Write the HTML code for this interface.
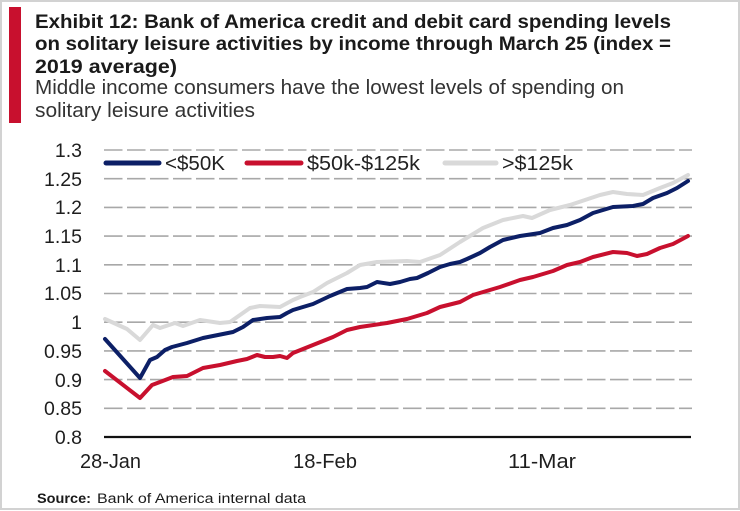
<!DOCTYPE html>
<html><head><meta charset="utf-8"><style>
html,body{margin:0;padding:0;background:#fff;}
svg{display:block;}
text{font-family:"Liberation Sans",sans-serif;}
</style></head><body>
<svg width="740" height="511" viewBox="0 0 740 511" xmlns="http://www.w3.org/2000/svg">
<rect x="0" y="0" width="740" height="511" fill="#fff"/>
<rect x="1" y="1" width="738" height="508" fill="none" stroke="#d2d2d2" stroke-width="2"/>
<rect x="9" y="7" width="12" height="116" fill="#c8102e"/>
<g fill="#1a1a1a" font-weight="bold" font-size="19">
<text x="35" y="28" textLength="636" lengthAdjust="spacingAndGlyphs">Exhibit 12: Bank of America credit and debit card spending levels</text>
<text x="35" y="50" textLength="636" lengthAdjust="spacingAndGlyphs">on solitary leisure activities by income through March 25 (index =</text>
<text x="35" y="73" textLength="142" lengthAdjust="spacingAndGlyphs">2019 average)</text>
</g>
<g fill="#333" font-size="20">
<text x="35" y="94" textLength="589" lengthAdjust="spacingAndGlyphs">Middle income consumers have the lowest levels of spending on</text>
<text x="35" y="117" textLength="220" lengthAdjust="spacingAndGlyphs">solitary leisure activities</text>
</g>
<!-- grid -->
<g stroke="#a8a8a8" stroke-width="1.6" stroke-dasharray="18.5 4.5">
<line x1="104" y1="150" x2="692" y2="150"/>
<line x1="104" y1="178.7" x2="692" y2="178.7"/>
<line x1="104" y1="207.4" x2="692" y2="207.4"/>
<line x1="104" y1="236.1" x2="692" y2="236.1"/>
<line x1="104" y1="264.8" x2="692" y2="264.8"/>
<line x1="104" y1="293.5" x2="692" y2="293.5"/>
<line x1="104" y1="322.2" x2="692" y2="322.2"/>
<line x1="104" y1="350.9" x2="692" y2="350.9"/>
<line x1="104" y1="379.6" x2="692" y2="379.6"/>
<line x1="104" y1="408.3" x2="692" y2="408.3"/>
</g>
<line x1="104" y1="437" x2="691" y2="437" stroke="#111" stroke-width="2.2"/>
<g fill="#1e1e1e" font-size="19.5" text-anchor="end">
<text x="82" y="157">1.3</text>
<text x="82" y="186">1.25</text>
<text x="82" y="214">1.2</text>
<text x="82" y="243">1.15</text>
<text x="82" y="272">1.1</text>
<text x="82" y="300">1.05</text>
<text x="82" y="329">1</text>
<text x="82" y="358">0.95</text>
<text x="82" y="387">0.9</text>
<text x="82" y="415">0.85</text>
<text x="82" y="444">0.8</text>
</g>
<g fill="#1e1e1e" font-size="20">
<text x="80" y="468" textLength="61" lengthAdjust="spacingAndGlyphs">28-Jan</text>
<text x="293" y="468" textLength="64" lengthAdjust="spacingAndGlyphs">18-Feb</text>
<text x="508" y="468" textLength="68" lengthAdjust="spacingAndGlyphs">11-Mar</text>
</g>
<!-- series -->
<g fill="none" stroke-width="4" stroke-linejoin="round" stroke-linecap="round">
<polyline stroke="#d9d9d9" points="105,319 127,329 140,340 153,325 160,328 175,323 183,326 200,320 220,323 230,322 250,308 260,306 280,307 293,300 300,297 313,292 327,283 347,273 360,265 377,262 407,261 420,262 440,255 460,242 483,228 503,220 523,216 532,218 550,210 570,205 600,195 613,192 627,194 643,195 660,188 673,183 688,175"/>
<polyline stroke="#c8102e" points="105,371 140,398 152,385 160,382 173,377 187,376 203,368 220,365 237,361 247,359 257,355 265,357 273,357 280,356 287,358 293,353 313,345 333,337 347,330 360,327 387,323 407,319 427,313 440,307 460,302 473,295 500,287 520,280 533,277 553,271 567,265 580,262 593,257 613,252 627,253 637,256 647,254 660,248 673,244 688,236"/>
<polyline stroke="#0c1f66" points="105,339 140,378 150,360 157,357 165,350 172,347 187,343 203,338 223,334 233,332 243,327 253,320 267,318 280,317 287,313 293,310 303,307 313,304 330,296 347,289 360,288 367,287 377,282 390,284 400,282 410,279 417,278 428,273 440,267 450,264 460,262 467,259 480,253 490,247 503,240 520,236 540,233 553,228 567,225 580,220 593,213 613,207 633,206 643,204 653,198 667,193 677,188 688,181"/>
</g>
<!-- legend -->
<g stroke-width="5" stroke-linecap="round">
<line x1="106" y1="163" x2="159" y2="163" stroke="#0c1f66"/>
<line x1="247" y1="163" x2="301" y2="163" stroke="#c8102e"/>
<line x1="445" y1="163" x2="496" y2="163" stroke="#d9d9d9"/>
</g>
<g fill="#222" font-size="20">
<text x="165" y="170" textLength="60" lengthAdjust="spacingAndGlyphs">&lt;$50K</text>
<text x="307" y="170" textLength="113" lengthAdjust="spacingAndGlyphs">$50k-$125k</text>
<text x="502" y="170" textLength="71" lengthAdjust="spacingAndGlyphs">&gt;$125k</text>
</g>
<text x="37" y="503" font-size="13.5" font-weight="bold" fill="#1a1a1a" textLength="54" lengthAdjust="spacingAndGlyphs">Source:</text>
<text x="97" y="503" font-size="13.5" fill="#1a1a1a" textLength="209" lengthAdjust="spacingAndGlyphs">Bank of America internal data</text>
</svg>
</body></html>
